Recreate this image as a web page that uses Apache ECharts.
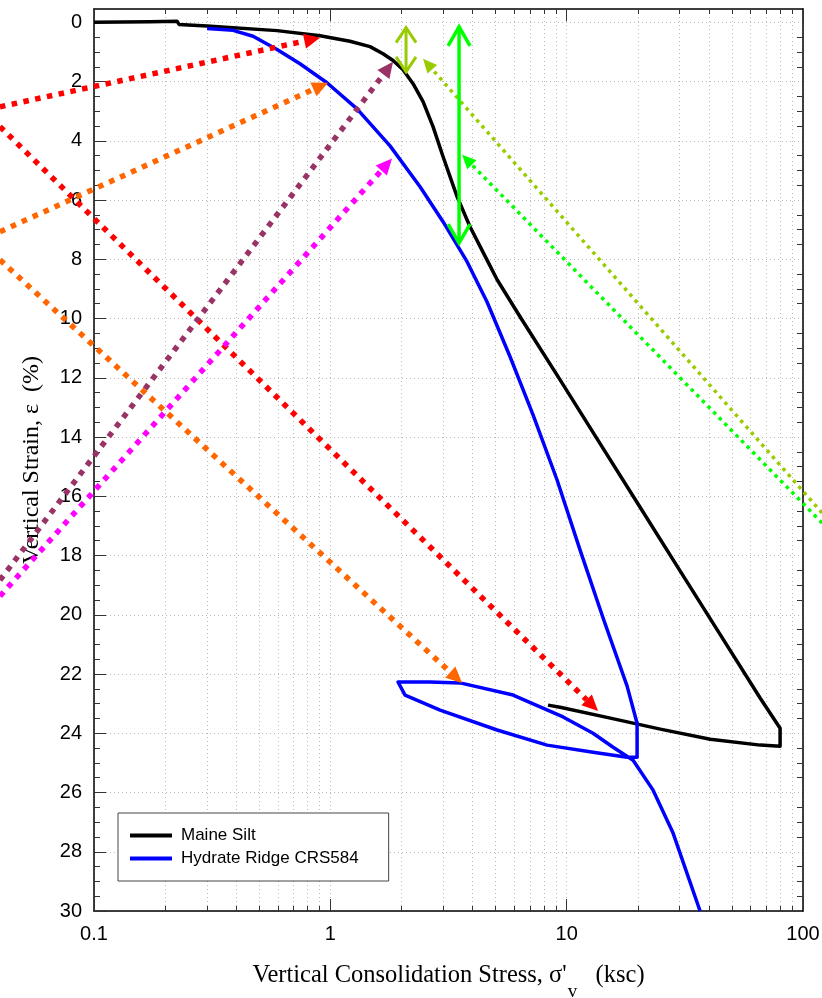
<!DOCTYPE html>
<html><head><meta charset="utf-8">
<script src="https://cdn.jsdelivr.net/npm/echarts@6/dist/echarts.min.js"></script>
<style>html,body{margin:0;padding:0;background:#fff}#c{width:822px;height:998px}</style>
</head><body><div id="c"></div>
<script>
// ---- data ----
const maineStress = [0.1,0.173,0.2245,0.229,0.301,0.595,0.905,1.21,1.472,1.671,1.843,2.031,2.239,2.468,2.72,3.0,3.44,3.9,4.6,5.08,6.35,9.38,13.85,20.45,30.19,44.58,65.85,80,80,65.9,40.5,24.9,15.3,9.38,8.34];
const maineStrain = [0,-0.02,-0.04,0.07,0.12,0.28,0.45,0.64,0.82,1.06,1.29,1.60,2.07,2.68,3.52,4.54,5.89,6.90,8.02,8.69,9.94,12.07,14.22,16.37,18.52,20.66,22.81,23.83,24.44,24.40,24.20,23.86,23.49,23.12,23.05];
const hydrateStress = [0.301,0.388,0.471,0.595,0.744,0.968,1.297,1.789,2.397,2.999,3.789,4.605,5.761,7.208,9.108,11.39,14.26,18.02,19.86,19.86,18.02,12.93,8.26,5.077,2.913,2.071,1.934,2.642,3.539,5.933,9.656,12.93,15.72,19.10,23.21,28.20,36.68];
const hydrateStrain = [0.21,0.27,0.47,0.92,1.40,2.04,2.92,4.17,5.55,6.73,8.08,9.44,11.29,13.25,15.45,17.81,20.11,22.41,23.66,24.81,24.81,24.64,24.40,23.89,23.22,22.71,22.27,22.27,22.30,22.71,23.45,24.00,24.47,24.91,25.92,27.37,30.0];

const arrowFromStress = [0.04,0.04,0.04,0.04,0.04,0.04,120.4,120.4,2.091,3.505];
const arrowFromStrain = [2.85,3.52,7.07,8.02,18.83,19.37,16.56,16.90,0.18,0.15];
const arrowToStress   = [0.905,13.58,0.978,3.61,1.843,1.824,2.468,3.61,2.091,3.505];
const arrowToStrain   = [0.52,23.25,2.04,22.30,1.33,4.60,1.23,4.47,1.67,7.45];

const xMajorTicks = [0.1,1,10,100];
const yMajorTicks = [0,2,4,6,8,10,12,14,16,18,20,22,24,26,28,30];
const seriesNames = ['Maine Silt','Hydrate Ridge CRS584'];

// ---- styles ----
const thick = {width:5.5, dash:[5.5,6.5], headLen:16, headHalf:7.5, kind:'single'};
const thin = {width:3.5, dash:[3.5,4.5], headLen:14, headHalf:6.5, kind:'single'};
const arrowStyles = [
  Object.assign({color:'#ff0000'}, thick),
  Object.assign({color:'#ff0000'}, thick),
  Object.assign({color:'#ff6600'}, thick),
  Object.assign({color:'#ff6600'}, thick),
  Object.assign({color:'#993366'}, thick),
  Object.assign({color:'#ff00ff'}, thick),
  Object.assign({color:'#99cc00'}, thin),
  Object.assign({color:'#00ff00'}, thin),
  {color:'#99cc00', width:3, headLen:15, headHalf:10, kind:'double'},
  {color:'#00ff00', width:3.5, headLen:19, headHalf:11, kind:'double'}
];

const xAllTicks = [];
[0.1,1,10].forEach(d => { for (let k=1;k<=9;k++) xAllTicks.push(+(d*k).toPrecision(6)); });
xAllTicks.push(100);
const yMinorTicks = [];
for (let v=0.5; v<30; v+=0.5) if (v % 2 !== 0) yMinorTicks.push(v);
const yAllTicks = [];
for (let v=0; v<=30; v+=0.5) yAllTicks.push(v);

const maineData = maineStress.map((x,i)=>[x, maineStrain[i]]);
const hydrateData = hydrateStress.map((x,i)=>[x, hydrateStrain[i]]);
const arrowData = arrowFromStress.map((x,i)=>[x, arrowFromStrain[i], arrowToStress[i], arrowToStrain[i]]);

function renderArrow(params, api) {
  const st = arrowStyles[params.dataIndex];
  const p0 = api.coord([api.value(0), api.value(1)]);
  const p1 = api.coord([api.value(2), api.value(3)]);
  const dx = p1[0]-p0[0], dy = p1[1]-p0[1];
  const len = Math.hypot(dx, dy);
  const ux = dx/len, uy = dy/len, nx = -uy, ny = ux;
  const children = [];
  if (st.kind === 'double') {
    children.push({type:'line', shape:{x1:p0[0],y1:p0[1],x2:p1[0],y2:p1[1]}, style:{stroke:st.color, lineWidth:st.width}});
    [[p1,1],[p0,-1]].forEach(function(a){
      const p=a[0], s=a[1];
      const bx = p[0]-s*ux*st.headLen, by = p[1]-s*uy*st.headLen;
      children.push({type:'polyline', shape:{points:[[bx+nx*st.headHalf, by+ny*st.headHalf],[p[0],p[1]],[bx-nx*st.headHalf, by-ny*st.headHalf]]},
        style:{stroke:st.color, lineWidth:st.width, fill:null, lineJoin:'miter'}});
    });
  } else {
    const bx = p1[0]-ux*st.headLen, by = p1[1]-uy*st.headLen;
    children.push({type:'line', shape:{x1:p0[0],y1:p0[1],x2:bx,y2:by}, style:{stroke:st.color, lineWidth:st.width, lineDash:st.dash, lineCap:'butt'}});
    children.push({type:'polygon', shape:{points:[[p1[0],p1[1]],[bx+nx*st.headHalf,by+ny*st.headHalf],[bx-nx*st.headHalf,by-ny*st.headHalf]]}, style:{fill:st.color}});
  }
  return {type:'group', children:children};
}

const axLine = {show:true, onZero:false, lineStyle:{color:'#000', width:1.5}};
const noLine = {show:false, onZero:false};
const tickStyle = {color:'#333', width:1};
const gridLine = {show:true, lineStyle:{color:'#b8b8b8', width:1, type:[1,3]}};
const sans = 'Liberation Sans, Arial, sans-serif';
const serif = 'Liberation Serif, Times New Roman, serif';

function logAxis(pos, ticks, len, extra) {
  return Object.assign({type:'log', logBase:10, min:0.1, max:100, position:pos,
    axisLine:noLine, axisTick:{show:true, inside:true, length:len, customValues:ticks, lineStyle:tickStyle},
    axisLabel:{show:false}, splitLine:{show:false}, axisPointer:{show:false}}, extra||{});
}
function valAxis(pos, ticks, len, extra) {
  return Object.assign({type:'value', inverse:true, min:-0.45, max:30, position:pos,
    axisLine:noLine, axisTick:{show:true, inside:true, length:len, customValues:ticks, lineStyle:tickStyle},
    axisLabel:{show:false}, splitLine:{show:false}, axisPointer:{show:false}}, extra||{});
}

const option = {
  animation:false,
  backgroundColor:'#fff',
  grid:{left:94, right:19, top:9, bottom:87, containLabel:false, outerBoundsMode:'none'},
  legend:{
    data:seriesNames, orient:'vertical', left:118, top:813,
    padding:[14,30,14,12], itemGap:6, itemWidth:42, itemHeight:4, icon:'rect',
    backgroundColor:'#fff', borderColor:'#444', borderWidth:1, borderRadius:0,
    textStyle:{fontFamily:sans, fontSize:17, color:'#000', padding:[0,0,0,4]}
  },
  xAxis:[
    logAxis('bottom', xAllTicks, 5, {
      axisLine:axLine,
      axisLabel:{show:true, customValues:xMajorTicks, fontFamily:sans, fontSize:20, color:'#000', margin:13, formatter:function(v){return String(v);}},
      splitLine:gridLine,
      name:"Vertical Consolidation Stress, σ'{sub|v}   (ksc)",
      nameLocation:'middle', nameGap:38,
      nameTextStyle:{fontFamily:serif, fontSize:24.5, color:'#000',
        rich:{sub:{fontFamily:serif, fontSize:19, color:'#000', padding:[34,0,0,1]}}}
    }),
    logAxis('bottom', xMajorTicks, 12),
    logAxis('top', xAllTicks, 5, {axisLine:axLine}),
    logAxis('top', xMajorTicks, 12)
  ],
  yAxis:[
    valAxis('left', yMajorTicks, 12, {
      axisLine:axLine,
      axisLabel:{show:true, customValues:yMajorTicks, fontFamily:sans, fontSize:20, color:'#000', margin:12},
      splitLine:gridLine,
      name:'Vertical Strain, ε  (%)', nameLocation:'middle', nameGap:50, nameRotate:90,
      nameTextStyle:{fontFamily:serif, fontSize:24, color:'#000'}
    }),
    valAxis('left', yAllTicks, 6),
    valAxis('right', yMinorTicks, 6, {axisLine:axLine})
  ],
  series:[
    {name:seriesNames[0], type:'line', data:maineData, symbol:'none', showSymbol:false,
      lineStyle:{color:'#000', width:3.5, join:'round'}, itemStyle:{color:'#000'}, z:3},
    {name:seriesNames[1], type:'line', data:hydrateData, symbol:'none', showSymbol:false,
      lineStyle:{color:'#0000ff', width:3.5, join:'round'}, itemStyle:{color:'#0000ff'}, z:4},
    {type:'custom', coordinateSystem:'cartesian2d', xAxisIndex:0, yAxisIndex:0,
      renderItem:renderArrow, data:arrowData, encode:{x:[0,2], y:[1,3]}, clip:false, silent:true, z:10}
  ]
};
const chart = echarts.init(document.getElementById('c'), null, {renderer:'canvas'});
chart.setOption(option);
</script></body></html>
